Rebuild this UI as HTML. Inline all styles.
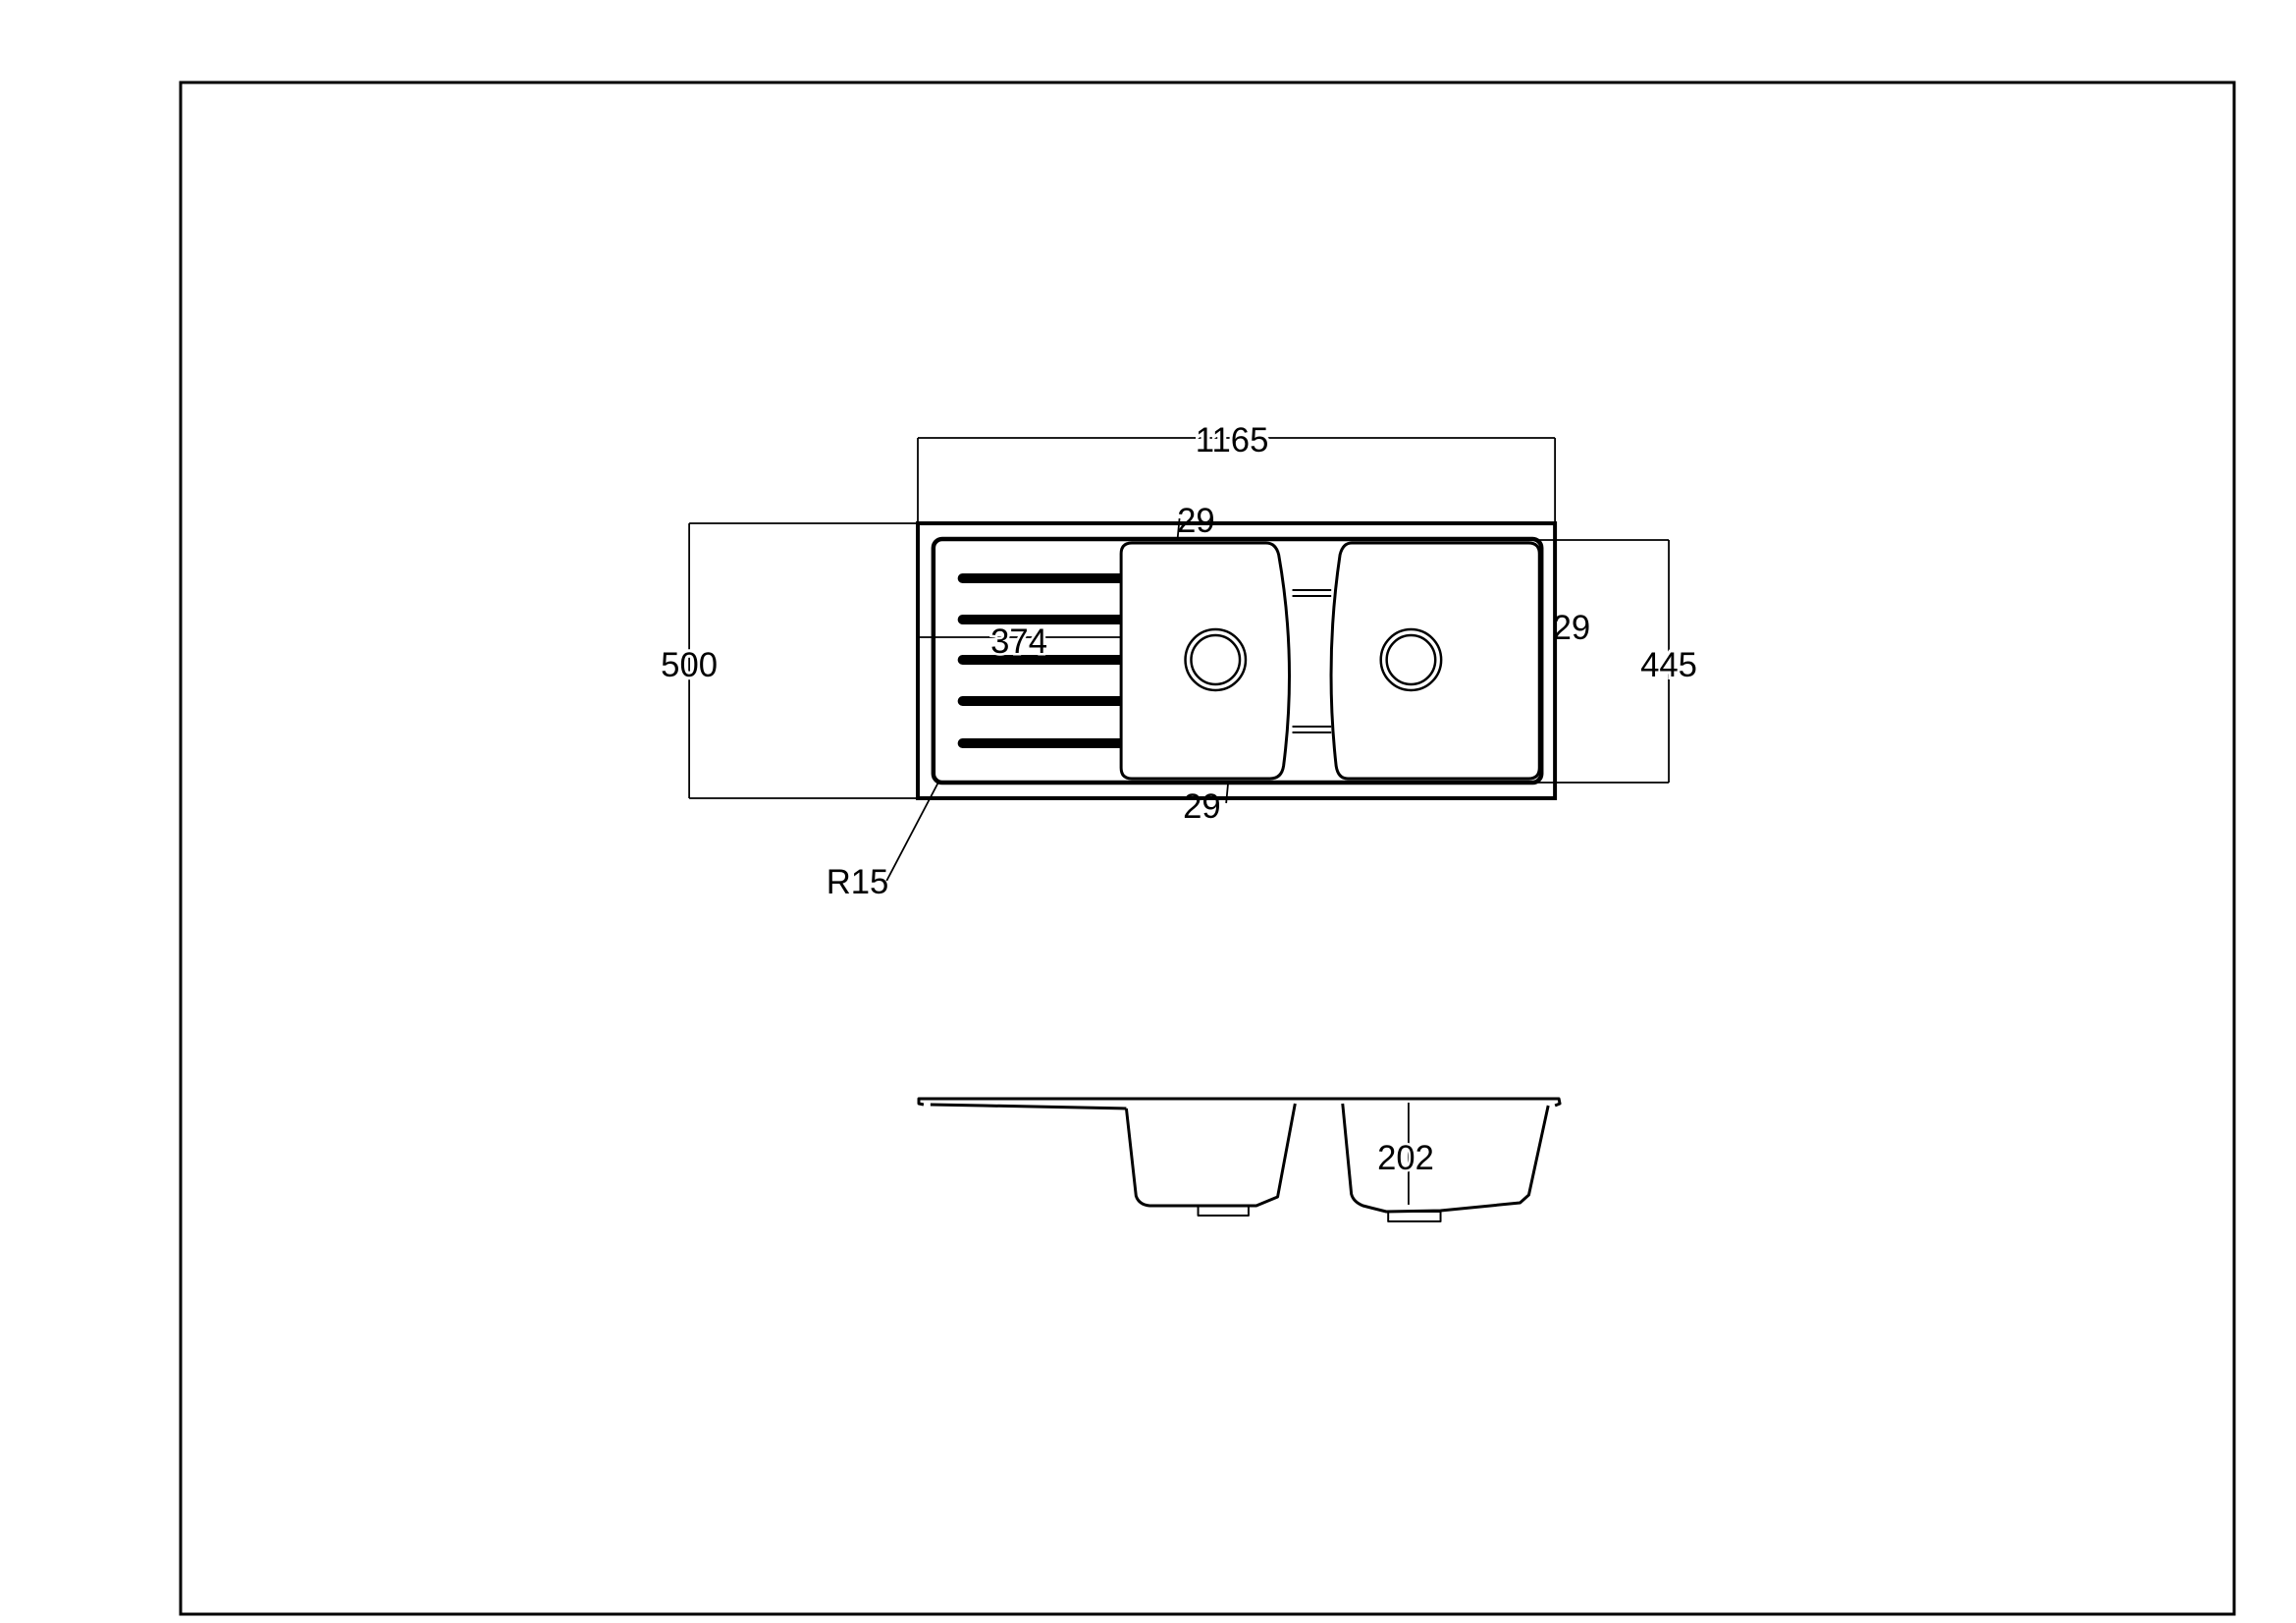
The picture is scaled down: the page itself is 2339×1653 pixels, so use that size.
<!DOCTYPE html>
<html><head><meta charset="utf-8"><style>
html,body{margin:0;padding:0;background:#fff;}
svg{display:block;}
text{font-family:"Liberation Sans",sans-serif;font-size:35px;fill:#000;}
</style></head><body>
<svg width="2339" height="1653" viewBox="0 0 2339 1653" xmlns="http://www.w3.org/2000/svg">
<rect x="184" y="84" width="2092" height="1560" fill="none" stroke="#000" stroke-width="3"/>

<g transform="translate(935 0) scale(0.991 1) translate(-940 0)">
<g fill="none" stroke="#000" stroke-width="1.8">
 <line x1="940" y1="446" x2="1595" y2="446"/>
 <line x1="940" y1="446" x2="940" y2="533"/>
 <line x1="1595" y1="446" x2="1595" y2="533"/>
 <line x1="705" y1="533" x2="940" y2="533"/>
 <line x1="705" y1="813" x2="940" y2="813"/>
 <line x1="705" y1="533" x2="705" y2="813"/>
 <line x1="1570" y1="550" x2="1712" y2="550"/>
 <line x1="1570" y1="797" x2="1712" y2="797"/>
 <line x1="1712" y1="550" x2="1712" y2="797"/>
 <line x1="940" y1="649" x2="1149" y2="649"/>
 <line x1="1209" y1="528" x2="1207" y2="549"/>
 <line x1="1259" y1="797" x2="1257" y2="818"/>
 <line x1="961" y1="797" x2="908" y2="897"/>
</g>

<rect x="940" y="533" width="655" height="280" fill="none" stroke="#000" stroke-width="4"/>
<rect x="956" y="549" width="625" height="248" rx="9" fill="none" stroke="#000" stroke-width="4.5"/>
<g stroke="#000" stroke-width="10" stroke-linecap="round">
 <line x1="986" y1="589" x2="1149" y2="589"/>
 <line x1="986" y1="631" x2="1149" y2="631"/>
 <line x1="986" y1="672" x2="1149" y2="672"/>
 <line x1="986" y1="714" x2="1149" y2="714"/>
 <line x1="986" y1="757" x2="1149" y2="757"/>
</g>
<g fill="none" stroke="#000" stroke-width="3">
 <path d="M1160,553 L1298,553 Q1308,553 1311,565 Q1330,672 1316,780 Q1314,793 1302,793 L1160,793 Q1149,793 1149,782 L1149,564 Q1149,553 1160,553 Z" fill="#fff"/>
 <path d="M1386,553 L1568,553 Q1579,553 1579,564 L1579,782 Q1579,793 1568,793 L1382,793 Q1372,793 1370,780 Q1358,672 1374,565 Q1377,553 1386,553 Z" fill="#fff"/>
 <line x1="1325" y1="601" x2="1365" y2="601" stroke-width="2"/>
 <line x1="1325" y1="607" x2="1365" y2="607" stroke-width="2"/>
 <line x1="1325" y1="740" x2="1365" y2="740" stroke-width="2"/>
 <line x1="1325" y1="746" x2="1365" y2="746" stroke-width="2"/>
 <circle cx="1246" cy="672" r="31" stroke-width="2.5"/>
 <circle cx="1246" cy="672" r="25" stroke-width="2.5"/>
 <circle cx="1447" cy="672" r="31" stroke-width="2.5"/>
 <circle cx="1447" cy="672" r="25" stroke-width="2.5"/>
</g>
<g text-anchor="middle">
 <text x="1263" y="460" style="paint-order:stroke" stroke="#fff" stroke-width="6">1165</text>
 <text x="1226" y="542">29</text>
 <text x="1232" y="833">29</text>
 <text x="1612" y="651">29</text>
 <text x="705" y="689" style="paint-order:stroke" stroke="#fff" stroke-width="6">500</text>
 <text x="1712" y="689" style="paint-order:stroke" stroke="#fff" stroke-width="6">445</text>
 <text x="1044" y="665" style="paint-order:stroke" stroke="#fff" stroke-width="5">374</text>
 <text x="878" y="910">R15</text>
</g>
</g>

<g transform="translate(936 0) scale(0.988 1) translate(-934 0)">
<g fill="none" stroke="#000" stroke-width="3" stroke-linejoin="round">
 <path d="M939,1125 L934,1124 L934,1119 L1594,1119 L1595,1124 L1590,1126"/>
 <path d="M946,1125 L1000,1126 L1148,1129"/>
 <path d="M1148,1129 L1158,1218 Q1161,1227 1172,1228 L1282,1228 L1304,1219 L1322,1124"/>
 <rect x="1222" y="1228" width="52" height="10" stroke-width="2"/>
 <path d="M1371,1124 L1380,1216 Q1382,1224 1392,1228 L1416,1234 L1472,1233 L1554,1225 L1563,1217 L1583,1126"/>
 <rect x="1418" y="1234" width="54" height="10" stroke-width="2"/>
 <line x1="1439" y1="1123" x2="1439" y2="1227" stroke-width="1.8"/>
</g>
<text x="1436" y="1191" text-anchor="middle" style="paint-order:stroke" stroke="#fff" stroke-width="5">202</text>
</g>
</svg>
</body></html>
